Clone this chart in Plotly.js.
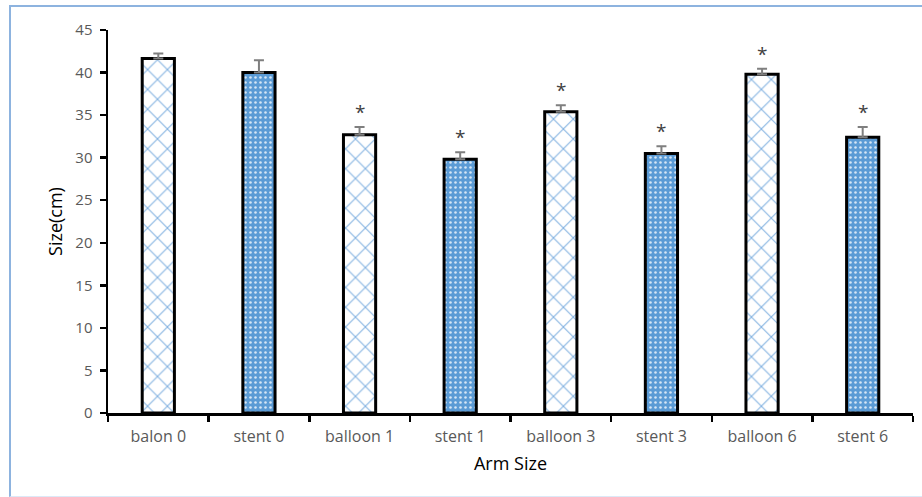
<!DOCTYPE html>
<html>
<head>
<meta charset="utf-8">
<script src="https://cdn.plot.ly/plotly-3.0.1.min.js"></script>
<style>
html,body{margin:0;padding:0;background:#fff;}
#wrap{position:relative;width:922px;height:497px;}
#chart{position:absolute;left:0;top:0;width:922px;height:497px;}
#frame{position:absolute;left:9px;top:5px;width:930px;height:489px;border-top:2px solid #8db3df;border-left:2px solid #8db3df;border-bottom:1px solid #dce9f7;pointer-events:none;}
</style>
</head>
<body>
<div id="wrap"><div id="chart"></div><div id="frame"></div></div>
<script>
const categories = ["balon 0","stent 0","balloon 1","stent 1","balloon 3","stent 3","balloon 6","stent 6"];
const values = [41.65, 40.0, 32.7, 29.8, 35.4, 30.5, 39.8, 32.4];
const errors = [0.6, 1.45, 0.9, 0.85, 0.75, 0.85, 0.65, 1.2];
const marks = ["", "", "*", "*", "*", "*", "*", "*"];
const groups = ["balloon","stent","balloon","stent","balloon","stent","balloon","stent"];

function pick(arr, g) { return arr.filter((_, i) => groups[i] === g); }

const styles = {
  balloon: {bg: "#ffffff", fg: "#7fb0e0", shape: "x", size: 14, solidity: 0.14},
  stent:   {bg: "#5b9bd5", fg: "#d6e6f5", shape: ".", size: 5, solidity: 0.2}
};

const traces = ["balloon", "stent"].map(g => ({
  type: "bar",
  name: g,
  x: pick(categories, g),
  y: pick(values, g),
  width: 0.32,
  marker: {
    color: styles[g].bg,
    line: {color: "#000000", width: 3},
    pattern: {shape: styles[g].shape, fgcolor: styles[g].fg, bgcolor: styles[g].bg,
              size: styles[g].size, solidity: styles[g].solidity, fillmode: "replace"}
  },
  error_y: {type: "data", symmetric: false, array: pick(errors, g),
            arrayminus: pick(errors, g).map(() => 0),
            visible: true, color: "#7f7f7f", thickness: 2, width: 5},
  hoverinfo: "skip"
}));

const annotations = categories.map((c, i) => ({
  x: c, y: values[i] + errors[i], xref: "x", yref: "y",
  text: marks[i], showarrow: false, yanchor: "bottom", yshift: 0,
  font: {family: "Open Sans, Liberation Sans, sans-serif", size: 19, color: "#404040"}
})).filter(a => a.text);

const layout = {
  width: 922, height: 497,
  margin: {l: 108, r: 9, t: 30, b: 84},
  paper_bgcolor: "rgba(0,0,0,0)",
  plot_bgcolor: "rgba(0,0,0,0)",
  showlegend: false,
  barmode: "overlay",
  font: {family: "Open Sans, Liberation Sans, sans-serif", color: "#595959"},
  xaxis: {
    type: "category", categoryorder: "array", categoryarray: categories,
    showline: true, linecolor: "#000", linewidth: 2.5,
    ticks: "outside", tickson: "boundaries", ticklen: 6, tickwidth: 2.5, tickcolor: "#000",
    tickfont: {size: 16, color: "#595959"}, ticklabelstandoff: 7,
    showgrid: false, zeroline: false,
    title: {text: "Arm Size", font: {size: 18, color: "#000"}, standoff: 12}
  },
  yaxis: {
    range: [0, 45], dtick: 5, tick0: 0,
    showline: true, linecolor: "#000", linewidth: 2.5,
    ticks: "outside", ticklen: 6, tickwidth: 2.5, tickcolor: "#000",
    tickfont: {size: 15, color: "#595959"}, ticklabelstandoff: 4,
    showgrid: false, zeroline: false,
    title: {text: "Size(cm)", font: {size: 18, color: "#000"}, standoff: 8}
  },
  annotations: annotations
};

Plotly.newPlot("chart", traces, layout, {displayModeBar: false, staticPlot: true});
</script>
</body>
</html>
